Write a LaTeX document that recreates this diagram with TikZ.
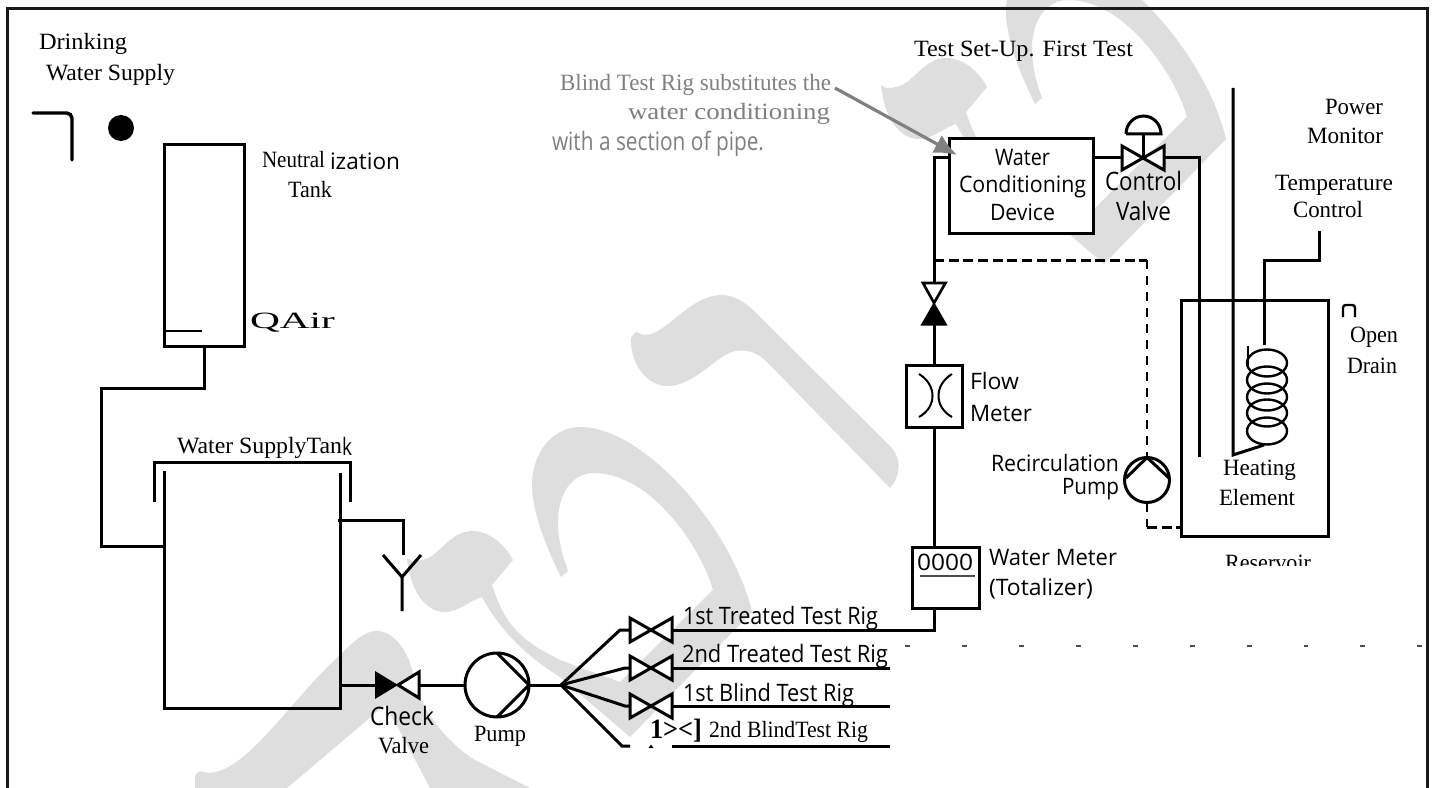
\documentclass[tikz,border=0pt]{standalone}
\usepackage{fontspec}
\usepackage{graphicx}
\usetikzlibrary{arrows.meta}
\newfontfamily\serf{Liberation Serif}
\newfontfamily\sanf{Open Sans}
\newlength\pxu \setlength\pxu{0.75pt}
\definecolor{wm}{HTML}{DEDEDE}
\definecolor{gr}{HTML}{808080}
\newcommand\sr{\serf\fontsize{17.5pt}{20pt}\selectfont}
\newcommand\sa{\sanf\fontsize{17pt}{20pt}\selectfont}
\newcommand\lab[6]{\node[lbl] (#1) at (#2,#3) {#4\resizebox{#5\pxu}{\height}{#6}};}
\newcommand\vlv[3]{\begin{scope}[shift={(#2,#3)}]
 \coordinate (#1l) at (-21,0); \coordinate (#1r) at (21,0); \coordinate (#1c) at (0,0);
 \draw[pipe,fill=white,line join=miter] (-21,-12)--(21,12)--(21,-12)--(-21,12)--cycle;
 \end{scope}}
\tikzset{
 lbl/.style={anchor=base west,inner sep=0pt,outer sep=0pt},
 pipe/.style={line width=2.25pt,draw=black},
 thin pipe/.style={line width=2.25pt,draw=black},
 vessel/.style={draw=black,line width=2.25pt,inner sep=0pt,outer sep=0pt,rectangle},
 roundv/.style={draw=black,line width=2.25pt,inner sep=0pt,outer sep=0pt,circle,fill=white},
 dashp/.style={line width=2.25pt,draw=black,dash pattern=on 7.5pt off 3.5pt},
 dashv/.style={line width=1.6pt,draw=black,dash pattern=on 7pt off 5pt},
 glyph/.pic={\fill[wm] (407,558) .. controls (412,563) and (420,561) .. (428,558)
   .. controls (440,553) and (452,531) .. (472,531)
   .. controls (490,531) and (505,545) .. (513,560)
   -- (492,585)
   .. controls (505,625) and (520,640) .. (560,660)
   -- (620,682) -- (713,590)
   .. controls (700,545) and (650,473) .. (594,473)
   .. controls (565,473) and (545,510) .. (568,571)
   -- (561,577)
   .. controls (545,545) and (532,510) .. (532,485)
   .. controls (532,450) and (555,427) .. (580,427)
   .. controls (645,427) and (733,530) .. (752,612)
   -- (630,737) -- (560,677)
   .. controls (525,655) and (500,630) .. (482,597)
   .. controls (470,600) and (460,612) .. (445,612)
   .. controls (425,612) and (410,590) .. (407,558) -- cycle;}
}
\begin{document}
\begin{tikzpicture}[x=0.75pt,y=-0.75pt]
\useasboundingbox (0,0) rectangle (1432,788);
\clip (0,0) rectangle (1432,788);
% watermark
\fill[white] (0,0) rectangle (1432,788);
\pic at (0,0) {glyph};
\pic at (474,-473) {glyph};
\fill[wm] (631,338) .. controls (634,333) and (636,332) .. (637,332)
  .. controls (642,336) and (648,336) .. (656,332)
  .. controls (675,322) and (695,295) .. (722,295)
  .. controls (732,295) and (742,300) .. (752,309)
  -- (890,446) .. controls (902,458) and (901,475) .. (890,488)
  -- (767,362) .. controls (755,350) and (745,350) .. (735,351)
  .. controls (715,356) and (695,386) .. (667,386)
  .. controls (648,386) and (630,365) .. (631,338) -- cycle;
\fill[wm] (195,788) -- (195,776) .. controls (197,772) and (200,770) .. (203,772)
  .. controls (240,782) and (290,700) .. (340,655)
  .. controls (355,640) and (365,631) .. (377,631)
  .. controls (395,631) and (412,655) .. (415,685)
  .. controls (425,715) and (450,745) .. (475,760)
  -- (530,788) -- (430,788) .. controls (415,760) and (400,730) .. (385,705)
  -- (287,788) -- cycle;
% frame
\draw[line width=2.25pt,draw=black!90] (7,788) -- (7,9) -- (1427,9) -- (1427,788);
% drinking water
\draw[line width=2.6pt,line cap=round,rounded corners=4pt] (33,113) -- (72,113) -- (72,160);
\node[circle,fill=black,inner sep=0pt,minimum size=26\pxu] (dot) at (121,128) {};
\lab{drink}{39}{50}{\sr}{88}{Drinking}
\lab{wsup}{46}{81}{\sr}{129}{Water Supply}
% neutralization tank
\node[vessel,minimum width=80\pxu,minimum height=201\pxu] (ntank) at (204,245.5) {};
\coordinate (lvlA) at (163,331); \coordinate (lvlB) at (202,331);
\draw[line width=0.9pt] (lvlA) -- (lvlB);
\lab{neut}{262}{167}{\sr}{63}{Neutral}
\lab{izat}{330}{170}{\sa}{70}{ization}
\lab{ntk}{288}{198}{\sr}{44}{Tank}
\lab{qair}{250}{328}{\sr}{85}{QAir}
% water supply tank
\coordinate (stTL) at (164,471); \coordinate (stBL) at (164,708);
\coordinate (stBR) at (340,708); \coordinate (stTR) at (340,473);
\draw[pipe,line join=miter] (stTL) -- (stBL) -- (stBR) -- (stTR);
\coordinate (lidA) at (154,502); \coordinate (lidB) at (154,462);
\coordinate (lidC) at (350,462); \coordinate (lidD) at (350,502);
\draw[pipe] (lidA) -- (lidB) -- (lidC) -- (lidD);
\coordinate (stIn) at (164,546);
\draw[thin pipe] (ntank.south) -- ++(0,42) -- (101,388) -- (101,546) -- (stIn);
\lab{wst}{177}{453}{\sr}{165}{Water SupplyTan}
\lab{wstk}{342}{455}{\sanf\fontsize{18pt}{20pt}\selectfont}{10}{k}
% overflow and funnel
\coordinate (ovA) at (338,520); \coordinate (ovB) at (403,520); \coordinate (ovC) at (403,555);
\draw[thin pipe] (ovA) -- (ovB) -- (ovC);
\coordinate (fnA) at (383,555); \coordinate (fnB) at (402,577);
\coordinate (fnC) at (421,555); \coordinate (fnD) at (402,611);
\draw[thin pipe,line join=miter] (fnA) -- (fnB) -- (fnC) (fnB) -- (fnD);
% check valve and pump
\coordinate (outT) at (340,685);
\coordinate (cvA) at (398,685);
\draw[pipe] (outT) -- (375,685);
\fill[black] (375,671) -- (398,685) -- (375,699) -- cycle;
\draw[pipe,fill=white,line join=miter] (419,672) -- (398,685) -- (419,698) -- cycle;
\node[roundv,minimum size=64\pxu] (pump) at (497,685) {};
\draw[pipe] (419,685) -- (pump.west);
\draw[thin pipe] (pump.north) -- (pump.east) -- (pump.south);
\coordinate (junc) at (561,685);
\draw[pipe] (pump.east) -- (junc);
\lab{chk}{370}{725}{\sanf\fontsize{19pt}{20pt}\selectfont}{64}{Check}
\lab{chkv}{378}{753}{\sr}{51}{Valve}
\lab{pmpl}{474}{741}{\sr}{52}{Pump}
% manifold
\draw[pipe] (junc) -- (620,630) -- (632,630);
\draw[pipe] (junc) -- (625,668) -- (632,668);
\draw[pipe] (junc) -- (625,706) -- (632,706);
\draw[pipe] (junc) -- (622,746) -- (630,746);
\vlv{va}{651}{630}
\vlv{vb}{651}{668}
\vlv{vc}{651}{706}
\fill[black] (648.5,748) -- (651,744.5) -- (653.5,748) -- cycle;
\coordinate (rb) at (890,668); \coordinate (rc) at (890,706);
\coordinate (rdA) at (672,746); \coordinate (rd) at (890,746);
\draw[pipe] (vbr) -- (rb);
\draw[pipe] (vcr) -- (rc);
\draw[pipe] (rdA) -- (rd);
\lab{ra}{683}{624}{\sanf\fontsize{18pt}{20pt}\selectfont}{195}{1st Treated Test Rig}
\lab{rbl}{682}{662}{\sanf\fontsize{18pt}{20pt}\selectfont}{206}{2nd Treated Test Rig}
\lab{rcl}{683}{701}{\sanf\fontsize{18pt}{20pt}\selectfont}{171}{1st Blind Test Rig}
\lab{rdv}{650}{738}{\serf\bfseries\fontsize{21pt}{20pt}\selectfont}{52}{1><]}
\lab{rdl}{709}{737}{\sr}{159}{2nd BlindTest Rig}
% water meter and main riser
\node[vessel,minimum width=67\pxu,minimum height=61\pxu] (wm) at (945.5,577.5) {};
\coordinate (wmB) at (934,608); \coordinate (wmT) at (934,547);
\draw[pipe] (var) -- (934,630) -- (wmB);
\lab{zero}{917}{570}{\sa}{56}{0000}
\coordinate (ulA) at (920,576); \coordinate (ulB) at (975,576);
\draw[line width=1pt,draw=black!70] (ulA) -- (ulB);
\lab{wml}{989}{565}{\sa}{128}{Water Meter}
\lab{wmt}{989}{595}{\sa}{104}{(Totalizer)}
% flow meter
\node[vessel,minimum width=56\pxu,minimum height=62\pxu] (fm) at (934,396) {};
\draw[thin pipe] (wmT) -- (fm.south);
\draw[line width=1.5pt] (919,374) .. controls (937,385) and (937,407) .. (919,417);
\draw[line width=1.5pt] (952,374) .. controls (934,385) and (934,407) .. (952,417);
\lab{flw}{970}{389}{\sa}{49}{Flow}
\lab{mtr}{970}{421}{\sa}{62}{Meter}
% vertical check valve
\coordinate (tvA) at (934,325); \coordinate (tvB) at (934,283);
\draw[pipe] (fm.north) -- (tvA);
\fill[black] (920.5,325.5) -- (934,302) -- (947.5,325.5) -- cycle;
\draw[line width=2pt,fill=white,line join=miter] (923,283) -- (945.5,283) -- (934,303) -- cycle;
% water conditioning device
\node[vessel,fill=white,minimum width=144\pxu,minimum height=95\pxu] (wcd) at (1021,186.5) {};
\coordinate (wcdIn) at (949,158); \coordinate (wcdOut) at (1093,158);
\draw[pipe] (tvB) -- (934,158) -- (wcdIn);
\lab{wa}{995}{166}{\sa}{55}{Water}
\lab{wb}{959}{193}{\sa}{127}{Conditioning}
\lab{wc}{990}{221}{\sa}{65}{Device}
% control valve
\vlv{cv}{1143}{158}
\coordinate (stemT) at (1143,134);
\draw[thin pipe] (cvc) -- (stemT);
\draw[thin pipe] (1126,134) -- (1161,134) arc[start angle=0,end angle=-180,x radius=17.5,y radius=18];
\draw[pipe] (wcdOut) -- (cvl);
\coordinate (retB) at (1199,457);
\draw[thin pipe] (cvr) -- (1199,158) -- (retB);
\lab{cta}{1105}{191}{\sanf\fontsize{19pt}{20pt}\selectfont}{77}{Control}
\lab{ctb}{1116}{221}{\sanf\fontsize{19pt}{20pt}\selectfont}{55}{Valve}
% recirculation
\node[roundv,minimum size=45\pxu] (rpump) at (1147,480) {};
\coordinate (dsA) at (934,260); \coordinate (dsB) at (1147,260);
\coordinate (dsD) at (1147,527); \coordinate (dsE) at (1181,527);
\draw[dashp] (dsA) -- (dsB);
\draw[dashv] (dsB) -- (rpump.north);
\draw[thin pipe,line join=miter] (1126,478) -- (rpump.north) -- (1169,478);
\draw[dashv] (rpump.south) -- (dsD);
\draw[dashp] (dsD) -- (dsE);
\lab{rca}{991}{471}{\sa}{128}{Recirculation}
\lab{rcb}{1062}{494}{\sa}{57}{Pump}
% reservoir
\node[vessel,minimum width=147\pxu,minimum height=236\pxu] (res) at (1254.5,418) {};
\coordinate (pmT) at (1233,88); \coordinate (pmB) at (1233,455); \coordinate (hd) at (1264,445);
\draw[thin pipe,line join=miter] (pmT) -- (pmB) -- (hd);
\coordinate (tcA) at (1319,231); \coordinate (tcB) at (1319,260);
\coordinate (tcC) at (1264,260); \coordinate (tcD) at (1264,345);
\draw[thin pipe] (tcA) -- (tcB) -- (tcC) -- (tcD);
\foreach \cy in {363,380,397,413,431} \draw[line width=1.8pt] (1267,\cy) ellipse [x radius=20,y radius=13.5];
\coordinate (leadA) at (1248,346); \coordinate (leadB) at (1248,366);
\draw[line width=1.8pt] (leadA) -- (leadB);
\coordinate (dnA) at (1343,317); \coordinate (dnB) at (1343,305);
\coordinate (dnC) at (1355,305); \coordinate (dnD) at (1355,317);
\draw[line width=1.8pt,rounded corners=2pt] (dnA) -- (dnB) -- (dnC) -- (dnD);
\lab{pwa}{1325}{115}{\sr}{58}{Power}
\lab{pwb}{1307}{144}{\sr}{76}{Monitor}
\lab{tpa}{1275}{191}{\sr}{118}{Temperature}
\lab{tpb}{1293}{218}{\sr}{70}{Control}
\lab{opa}{1350}{342}{\sr}{48}{Open}
\lab{opb}{1347}{373}{\sr}{50}{Drain}
\lab{hta}{1223}{475}{\sr}{73}{Heating}
\lab{htb}{1219}{505}{\sr}{76}{Element}
\begin{scope}
\clip (1200,545) rectangle (1340,565);
\lab{rsv}{1225}{570}{\sr}{86}{Reservoir}
\end{scope}
% thin dash line
\coordinate (tdA) at (905,646); \coordinate (tdB) at (1424,646);
\draw[line width=0.8pt,draw=black!70,dash pattern=on 3.7pt off 39pt] (tdA) -- (tdB);
% test set-up and note
\lab{tsu}{914}{57}{\sr}{219}{Test Set-Up. First Test}
\lab{nta}{560}{91}{\sr\color{gr}}{271}{Blind Test Rig substitutes the}
\lab{ntb}{628}{120}{\sr\color{gr}}{202}{water conditioning}
\lab{ntc}{552}{151}{\sanf\fontsize{19pt}{20pt}\selectfont\color{gr}}{212}{with a section of pipe.}
\coordinate (arA) at (835,88); \coordinate (arB) at (957,155);
\draw[line width=2.4pt,draw=gr,-{Latex[length=17pt,width=15pt]}] (arA) -- (arB);
\end{tikzpicture}
\end{document}
